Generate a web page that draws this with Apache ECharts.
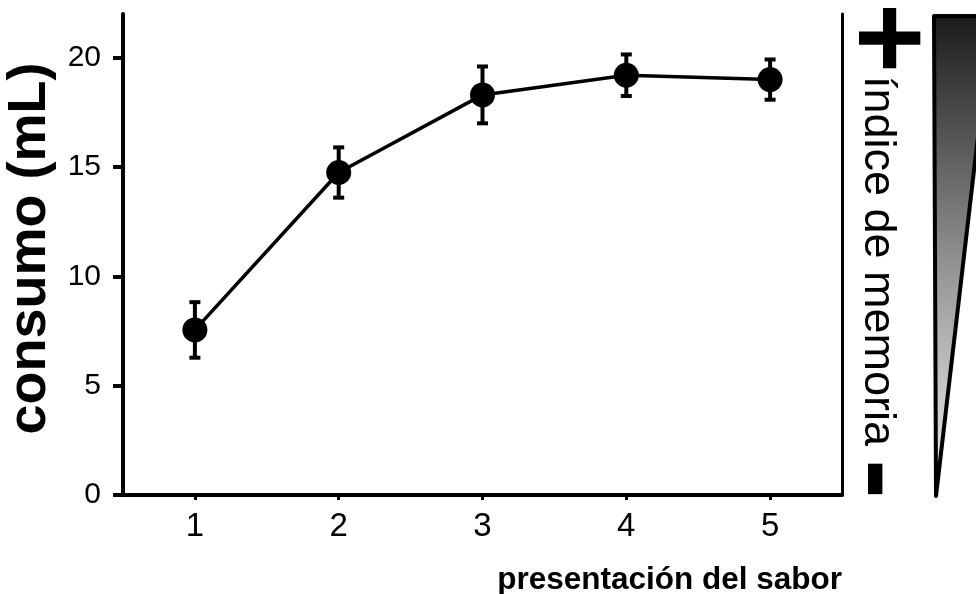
<!DOCTYPE html>
<html><head><meta charset="utf-8">
<script src="https://cdn.jsdelivr.net/npm/echarts@6/dist/echarts.min.js"></script>
<style>html,body{margin:0;padding:0;background:#fff}#c{width:976px;height:594px}</style>
</head><body><div id="c"></div>
<script>
// ---- data ----
const categories = ['1', '2', '3', '4', '5'];
const meanValues = [7.55, 14.75, 18.3, 19.2, 19.0];
const errorValues = [1.27, 1.15, 1.3, 0.95, 0.92];
const yTickValues = [0, 5, 10, 15, 20];
const xAxisTitle = 'presentación del sabor';
const yAxisTitle = 'consumo (mL)';
const sideLabel = 'índice de memoria';
const sidePlus = '+';
const sideMinus = '-';

const FONT = '"Liberation Sans", Arial, Helvetica, sans-serif';
const chart = echarts.init(document.getElementById('c'), null, { renderer: 'canvas' });

const errorData = categories.map((c, i) => [i, meanValues[i], errorValues[i]]);

const option = {
  animation: false,
  backgroundColor: '#fff',
  grid: { left: 123, right: 134, top: 14, bottom: 99, containLabel: false, outerBoundsMode: 'none' },
  xAxis: {
    type: 'category',
    data: categories,
    boundaryGap: true,
    name: xAxisTitle,
    nameLocation: 'end',
    nameGap: 0,
    nameTextStyle: {
      fontFamily: FONT, fontSize: 31.5, fontWeight: 'bold', color: '#000',
      align: 'right', verticalAlign: 'top', padding: [69, 0, 0, 0]
    },
    axisLine: { show: true, lineStyle: { color: '#000', width: 4 } },
    axisTick: { show: true, alignWithLabel: true, length: 5, lineStyle: { color: '#000', width: 3 } },
    axisLabel: { fontFamily: FONT, fontSize: 33, color: '#000', margin: 15 },
    splitLine: { show: false }
  },
  yAxis: [{
    type: 'value',
    min: 0, max: 22,
    name: yAxisTitle,
    nameLocation: 'middle',
    nameRotate: 90,
    nameGap: 60,
    nameTextStyle: { fontFamily: FONT, fontSize: 54, fontWeight: 'bold', color: '#000', padding: [0, 0, 0, 12] },
    axisLine: { show: true, onZero: false, lineStyle: { color: '#000', width: 4 } },
    axisTick: { show: true, length: 10, customValues: yTickValues, lineStyle: { color: '#000', width: 4 } },
    axisLabel: { fontFamily: FONT, fontSize: 30, color: '#000', margin: 22, customValues: yTickValues },
    splitLine: { show: false }
  }, {
    type: 'value',
    min: 0, max: 22,
    position: 'right',
    axisLine: { show: true, onZero: false, lineStyle: { color: '#000', width: 3 } },
    axisTick: { show: false },
    axisLabel: { show: false },
    splitLine: { show: false }
  }],
  series: [{
    type: 'custom',
    name: 'error',
    data: errorData,
    encode: { x: 0, y: 1 },
    z: 2,
    renderItem: function (params, api) {
      const i = api.value(0), m = api.value(1), e = api.value(2);
      const top = api.coord([i, m + e]);
      const bot = api.coord([i, m - e]);
      const cap = 5.5;
      const st = { stroke: '#000', lineWidth: 4 };
      return {
        type: 'group',
        children: [
          { type: 'line', shape: { x1: top[0], y1: top[1], x2: bot[0], y2: bot[1] }, style: st },
          { type: 'line', shape: { x1: top[0] - cap, y1: top[1], x2: top[0] + cap, y2: top[1] }, style: st },
          { type: 'line', shape: { x1: bot[0] - cap, y1: bot[1], x2: bot[0] + cap, y2: bot[1] }, style: st }
        ]
      };
    }
  }, {
    type: 'line',
    name: 'consumo',
    data: meanValues,
    z: 3,
    symbol: 'circle',
    symbolSize: 25,
    lineStyle: { color: '#000', width: 3.5 },
    itemStyle: { color: '#000' }
  }],
  graphic: [
    {
      type: 'polygon',
      shape: { points: [[934, 16], [992, 16], [936, 496]] },
      style: {
        fill: new echarts.graphic.LinearGradient(0, 0, 0, 1, [
          { offset: 0, color: '#1a1a1a' },
          { offset: 0.55, color: '#9a9a9a' },
          { offset: 1, color: '#f2f2f2' }
        ]),
        stroke: '#000', lineWidth: 4, lineJoin: 'round'
      },
      z: 10
    },
    {
      type: 'text', x: 882, y: 38, rotation: -Math.PI / 2,
      style: { text: sidePlus, fontFamily: FONT, fontSize: 120, fontWeight: 'bold', fill: '#000', align: 'center', verticalAlign: 'middle' },
      z: 10
    },
    {
      type: 'text', x: 877, y: 479, rotation: -Math.PI / 2,
      style: { text: sideMinus, fontFamily: FONT, fontSize: 120, fontWeight: 'bold', fill: '#000', align: 'center', verticalAlign: 'middle' },
      z: 10
    },
    {
      type: 'text', x: 877, y: 261, rotation: -Math.PI / 2,
      style: { text: sideLabel, fontFamily: FONT, fontSize: 45, fill: '#000', align: 'center', verticalAlign: 'middle' },
      z: 10
    }
  ]
};
chart.setOption(option);
</script>
</body></html>
